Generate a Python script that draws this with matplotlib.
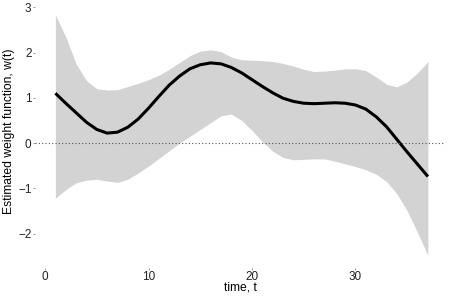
import numpy as np
import matplotlib
matplotlib.use("Agg")
import matplotlib.pyplot as plt

plt.rcParams['font.family'] = ['Liberation Sans', 'DejaVu Sans']

# time points and estimated weight function with its band
t = list(range(1, 38))
w_mean = [1.10, 0.88, 0.67, 0.46, 0.30, 0.22, 0.24, 0.35, 0.53, 0.77,
          1.03, 1.28, 1.48, 1.64, 1.73, 1.77, 1.75, 1.67, 1.55, 1.40,
          1.25, 1.11, 0.99, 0.92, 0.88, 0.87, 0.88, 0.89, 0.88, 0.84,
          0.75, 0.58, 0.36, 0.08, -0.20, -0.47, -0.74]
w_upper = [2.83, 2.35, 1.75, 1.38, 1.20, 1.17, 1.18, 1.25, 1.32, 1.40,
           1.50, 1.63, 1.78, 1.93, 2.03, 2.06, 2.02, 1.90, 1.84, 1.83,
           1.82, 1.80, 1.76, 1.70, 1.63, 1.58, 1.59, 1.61, 1.64, 1.64,
           1.60, 1.46, 1.30, 1.24, 1.35, 1.55, 1.80]
w_lower = [-1.22, -1.03, -0.88, -0.82, -0.80, -0.84, -0.87, -0.80, -0.66, -0.51,
           -0.34, -0.17, 0.00, 0.15, 0.30, 0.45, 0.60, 0.64, 0.50, 0.28,
           0.03, -0.18, -0.32, -0.37, -0.36, -0.35, -0.35, -0.40, -0.46, -0.52,
           -0.59, -0.69, -0.85, -1.12, -1.50, -1.98, -2.48]

x_ticks = [0, 10, 20, 30]
y_ticks = [-2, -1, 0, 1, 2, 3]

fig = plt.figure(figsize=(4.49, 2.99), dpi=100)
ax = fig.add_axes([35 / 449, 1 - 258 / 299, 410 / 449, 253 / 299])

ax.fill_between(t, w_lower, w_upper, color='#d3d3d3', linewidth=0)
ax.plot(t, w_mean, color='black', linewidth=2.2, solid_capstyle='butt')
ax.axhline(0, color='#555555', linestyle=(0, (1, 2)), linewidth=0.8)

ax.set_xlim(-0.97, 38.65)
ax.set_ylim(-2.54, 3.05)
ax.set_xticks(x_ticks)
ax.set_yticks(y_ticks)

for side in ['top', 'right', 'left', 'bottom']:
    ax.spines[side].set_visible(False)
ax.spines['bottom'].set_position(('outward', 7))

ax.tick_params(axis='both', length=1.5, width=0.6, color='#888888',
               labelsize=8.5, labelcolor='#222222', pad=1)

ax.set_xlabel('time, t', fontsize=8.7, labelpad=-1)
ax.set_ylabel('Estimated weight function, w(t)', fontsize=8.7, labelpad=2)

fig.savefig('out.png', dpi=100)
